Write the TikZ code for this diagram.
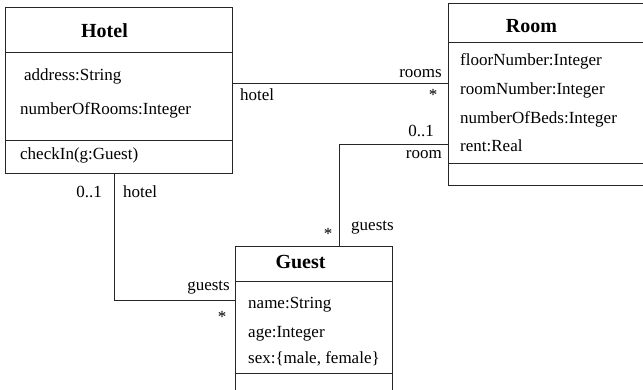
\documentclass[tikz,border=0pt]{standalone}
\usepackage{fontspec}
\setmainfont{Liberation Serif}
\begin{document}
\begin{tikzpicture}[x=1pt,y=-1pt,
  box/.style={draw=black!85, line width=1pt, anchor=north west, inner sep=0pt, outer sep=0pt},
  sep/.style={draw=black!85, line width=1pt},
  conn/.style={draw=black!85, line width=1pt},
  attr/.style={font=\fontsize{17}{20}\selectfont, inner sep=0pt, anchor=base west},
  ttl/.style={font=\fontsize{20}{24}\selectfont\bfseries, inner sep=0pt, anchor=base},
  lblw/.style={font=\fontsize{17}{20}\selectfont, inner sep=0pt, anchor=base west},
  lble/.style={font=\fontsize{17}{20}\selectfont, inner sep=0pt, anchor=base east},
  mult/.style={font=\fontsize{17}{20}\selectfont, inner sep=0pt, anchor=base}]

\clip (0,0) rectangle (643,389);
\fill[white] (0,0) rectangle (643,389);

% ---------- Hotel ----------
\node[box, minimum width=227.5pt, minimum height=166.4pt] (hotel) at (5,7.3) {};
\draw[sep] (5,52.7) -- (232.5,52.7);
\draw[sep] (5,140.7) -- (232.5,140.7);
\node[ttl] (hoteltitle) at (104.5,37.7) {Hotel};
\node[attr] (haddr) at (24,80) {address:String};
\node[attr] (hnum) at (20,114) {numberOfRooms:Integer};
\node[attr] (hcheck) at (20,159) {checkIn(g:Guest)};

% ---------- Room ----------
\node[box, minimum width=210pt, minimum height=181.5pt] (room) at (448.3,3.5) {};
\draw[sep] (448.3,42) -- (660,42);
\draw[sep] (448.3,163) -- (660,163);
\node[ttl] (roomtitle) at (531.5,32) {Room};
\node[attr] (rfloor) at (460,65) {floorNumber:Integer};
\node[attr] (rnum) at (460,94) {roomNumber:Integer};
\node[attr] (rbeds) at (460,123) {numberOfBeds:Integer};
\node[attr] (rrent) at (460,151) {rent:Real};

% ---------- Guest ----------
\node[box, minimum width=156.6pt, minimum height=160pt] (guest) at (235.7,246.7) {};
\draw[sep] (235.7,281.7) -- (392.3,281.7);
\draw[sep] (235.7,373) -- (392.3,373);
\node[ttl] (guesttitle) at (300.5,268) {Guest};
\node[attr] (gname) at (248,308) {name:String};
\node[attr] (gage) at (248,337) {age:Integer};
\node[attr] (gsex) at (248,363) {sex:\{male, female\}};

% ---------- connectors ----------
\coordinate (hr) at (0,83.3);
\draw[conn] (hotel.east |- hr) -- (room.west |- hr);
\coordinate (rg) at (339.3,144);
\draw[conn] (room.west |- rg) -- (rg) -- (guest.north -| rg);
\coordinate (hg) at (114.7,300);
\draw[conn] (hotel.south -| hg) -- (hg) -- (guest.west |- hg);

% ---------- labels ----------
\node[lble] (lrooms) at (442,77) {rooms};
\node[mult] (lstar1) at (433,100.5) {*};
\node[lblw] (lhotel1) at (240,100) {hotel};
\node[lble] (l01a) at (434,136) {0..1};
\node[lble] (lroom) at (442,158) {room};
\node[mult] (lstar2) at (328,239.5) {*};
\node[lblw] (lguests1) at (351,230) {guests};
\node[lble] (l01b) at (102,197) {0..1};
\node[lblw] (lhotel2) at (123,197) {hotel};
\node[lble] (lguests2) at (230,290) {guests};
\node[mult] (lstar3) at (222,322.5) {*};
\end{tikzpicture}
\end{document}
